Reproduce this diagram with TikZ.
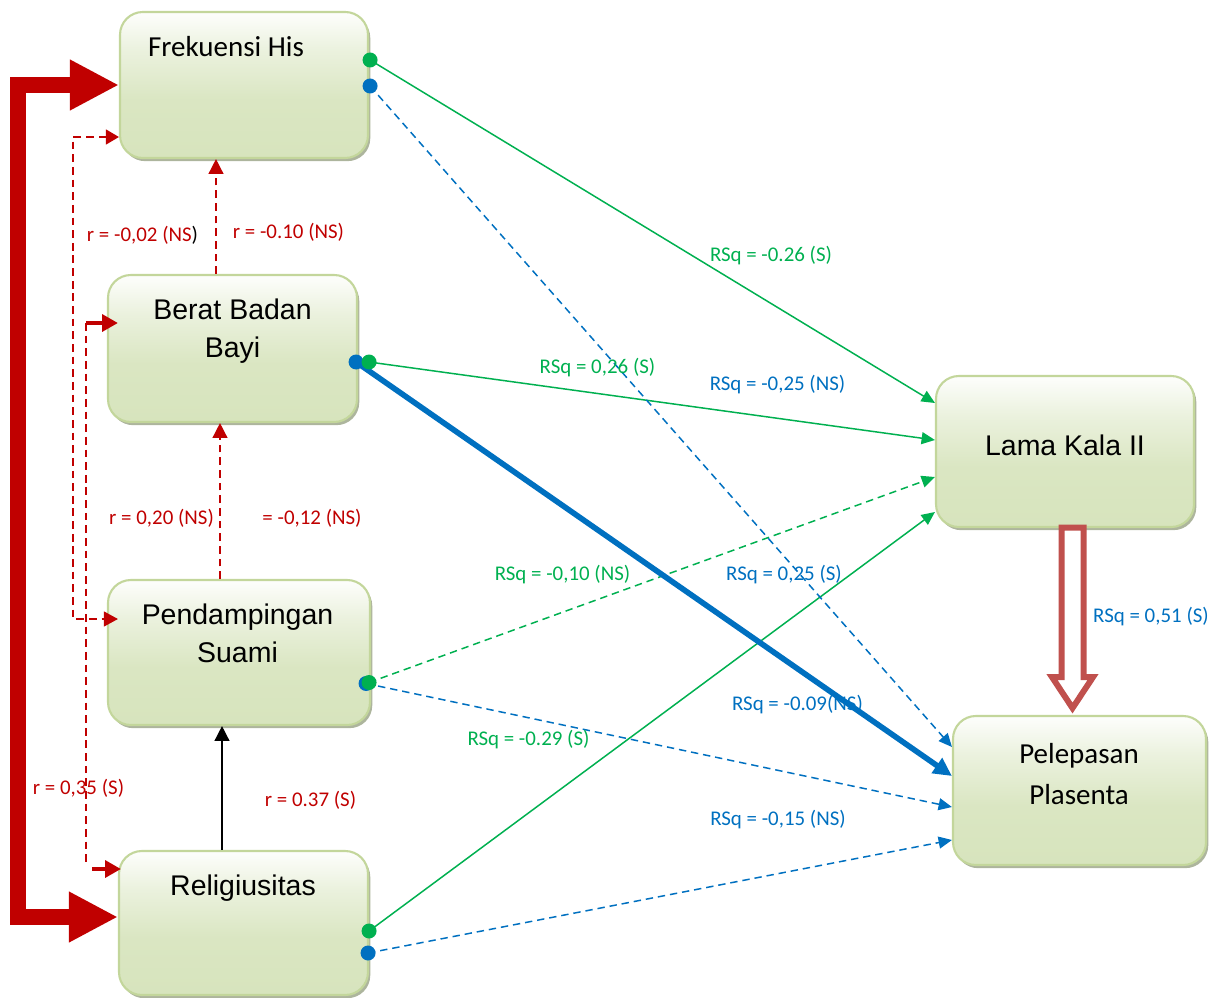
\documentclass[tikz,border=0pt]{standalone}
\usepackage{fontspec}
\setmainfont{Carlito}
\newfontfamily\arialf{Liberation Sans}
\usetikzlibrary{calc,arrows.meta,shadows}

\definecolor{rsgreen}{HTML}{00B050}
\definecolor{rsblue}{HTML}{0070C0}
\definecolor{rdark}{HTML}{C00000}
\definecolor{boxline}{HTML}{C3D69B}
\definecolor{boxfill}{HTML}{D7E4BD}
\definecolor{boxshadow}{HTML}{9FA88C}
\definecolor{hollowred}{HTML}{C0504D}

% one pixel of the drawing grid
\newlength\pxl
\setlength\pxl{0.02cm}

\pgfdeclareverticalshading{boxshade}{100bp}{%
  color(0bp)=(boxfill); color(25bp)=(boxfill); color(45bp)=(boxfill!92!white);
  color(62bp)=(boxfill!50!white); color(75bp)=(boxfill!4!white); color(100bp)=(white)}

\tikzset{
  varbox/.style={rectangle, rounded corners=13pt, draw=boxline, line width=1.2pt,
    shading=boxshade, inner sep=0pt,
    drop shadow={shadow xshift=1.3pt, shadow yshift=-1.8pt, fill=boxshadow, opacity=0.85}},
  atxt/.style={font=\arialf\fontsize{16.2}{21.5}\selectfont, align=center, inner sep=0pt},
  ctxt/.style={font=\fontsize{16.5}{23.8}\selectfont, align=center, inner sep=0pt},
  lbl/.style={font=\fontsize{11.9}{14}\selectfont, inner sep=0pt},
  rlbl/.style={lbl, text=rdark},
  glbl/.style={lbl, text=rsgreen},
  blbl/.style={lbl, text=rsblue},
  tri/.style={-{Triangle[length=7.6pt,width=6.8pt]}},
  gline/.style={draw=rsgreen, line width=0.85pt, tri},
  bline/.style={draw=rsblue, line width=0.85pt, dash pattern=on 4.2pt off 2.8pt, tri},
  gdash/.style={dash pattern=on 4.2pt off 2.8pt},
  bthick/.style={draw=rsblue, line width=3.2pt, -{Triangle[length=10.5pt,width=10pt]}},
  rdash/.style={draw=rdark, line width=0.85pt, dash pattern=on 4.4pt off 2.8pt},
  rstub/.style={draw=rdark, line width=2.4pt, -{Triangle[length=9pt,width=9.5pt]}},
  rthick/.style={draw=rdark, line width=8.6pt, line join=miter,
    {Triangle[length=28pt,width=27pt]}-{Triangle[length=28pt,width=27pt]}},
  gdot/.style={circle, fill=rsgreen, minimum size=15*\pxl, inner sep=0pt},
  bdot/.style={circle, fill=rsblue, minimum size=15*\pxl, inner sep=0pt},
}

\begin{document}
\begin{tikzpicture}[x=0.02cm, y=-0.02cm]
\useasboundingbox (0,0) rectangle (1226,997);

% variable boxes
\node[varbox, minimum width=248*\pxl, minimum height=146*\pxl] (fh)  at (244,85) {};
\node[varbox, minimum width=249*\pxl, minimum height=147*\pxl] (bbb) at (232.5,348.5) {};
\node[varbox, minimum width=262*\pxl, minimum height=145*\pxl] (ps)  at (239,652.5) {};
\node[varbox, minimum width=249*\pxl, minimum height=144*\pxl] (rel) at (243.5,923) {};
\node[varbox, minimum width=258*\pxl, minimum height=151*\pxl] (lk)  at (1065,451.5) {};
\node[varbox, minimum width=253*\pxl, minimum height=149*\pxl] (pp)  at (1079.5,790.5) {};

% box titles
\node[ctxt, anchor=base] (fhT)  at (226,57) {Frekuensi His};
\node[atxt] (bbbT) at (232.5,331) {Berat Badan\\Bayi};
\node[atxt] (psT)  at (237.5,633) {Pendampingan\\Suami};
\node[atxt, anchor=base] (relT) at (243,895) {Religiusitas};
\node[atxt, anchor=base] (lkT)  at (1065,455) {Lama Kala II};
\node[ctxt] (ppT)  at (1079,774) {Pelepasan\\Plasenta};

% correlations among the predictors
\draw[rthick] (fh.west) -- (18,85) -- (18,917) -- ($(rel.west)+(0,-6)$);

\coordinate (bendA1) at (73,137);
\coordinate (bendA2) at (73,619);
\draw[rdash, {Triangle[length=7.4pt,width=8.5pt]}-{Triangle[length=8pt,width=8.5pt]}]
  ($(fh.west)+(0,52)$) -- (bendA1) -- (bendA2) -- ($(ps.west)+(11,-33.5)$);

\coordinate (bendB1) at (86,323);
\coordinate (bendB2) at (86,863);
\coordinate (stubB2) at (92,869);
\draw[rdash] (bendB1) -- (bendB2);
\draw[rstub] (bendB1) -- ($(bbb.west)+(11,-25.5)$);
\draw[rstub] (stubB2) -- ($(rel.west)+(3,-54)$);

\coordinate (c1) at ($(bbb.north)+(-16.5,0)$);
\draw[rdash, -{Triangle[length=8.5pt,width=8.5pt]}] (c1) -- (c1 |- fh.south);
\coordinate (d1) at ($(ps.north)+(-19,0)$);
\draw[rdash, -{Triangle[length=8.5pt,width=8.5pt]}] (d1) -- (d1 |- bbb.south);
\coordinate (e1) at ($(rel.north)+(-21.5,0)$);
\draw[black, line width=0.85pt, -{Triangle[length=8.5pt,width=8.5pt]}] (e1) -- (e1 |- ps.south);

% path starting points
\coordinate (fhG)  at ($(fh.east)+(1,-25)$);
\coordinate (fhB)  at ($(fh.east)+(1,1)$);
\coordinate (bbbB) at ($(bbb.east)+(-2,13.5)$);
\coordinate (bbbG) at ($(bbb.east)+(11,13.5)$);
\coordinate (psB)  at ($(ps.east)+(-5,31)$);
\coordinate (psG)  at ($(ps.east)+(-2,30)$);
\coordinate (relG) at ($(rel.east)+(0,8)$);
\coordinate (relB) at ($(rel.east)+(-1,30)$);

% paths to Lama Kala II
\draw[gline] (fhG) -- ($(lk.west)+(0,-48.5)$);
\draw[gline] (bbbG) -- ($(lk.west)+(0,-11.5)$);
\draw[gline, gdash] (psG) -- ($(lk.west)+(0,25.5)$);
\draw[gline] (relG) -- ($(lk.west)+(0,60.5)$);

% paths to Pelepasan Plasenta
\draw[bline] (fhB) -- ($(pp.west)+(0,-43.5)$);
\draw[bthick] (bbbB) -- ($(pp.west)+(0,-14.5)$);
\draw[bline] (psB) -- ($(pp.west)+(0,16.5)$);
\draw[bline] (relB) -- ($(pp.west)+(0,49.5)$);

% hollow arrow Lama Kala II -> Pelepasan Plasenta
\draw[draw=hollowred, fill=white, line width=3.4pt, line join=miter]
  ($(lk.south)+(-3.5,-0.5)$) -- ($(lk.south)+(18.5,-0.5)$) -- ($(lk.south)+(18.5,149)$)
  -- ($(lk.south)+(28,149)$) -- ($(lk.south)+(7.5,180)$) -- ($(lk.south)+(-13,149)$)
  -- ($(lk.south)+(-3.5,149)$) -- cycle;

% end dots
\node[gdot] (fhGd) at (fhG) {};
\node[bdot] (fhBd) at (fhB) {};
\node[bdot] (bbbBd) at (bbbB) {};
\node[gdot] (bbbGd) at (bbbG) {};
\node[bdot] (psBd) at (psB) {};
\node[gdot] (psGd) at (psG) {};
\node[gdot] (relGd) at (relG) {};
\node[bdot] (relBd) at (relB) {};

% coefficients
\node[rlbl] (l1) at (142.5,235) {r = -0,02 (NS\textcolor{black}{)}};
\node[rlbl] (l2) at (288.5,232) {r = -0.10 (NS)};
\node[rlbl] (l3) at (161.5,518) {r = 0,20 (NS)};
\node[rlbl] (l4) at (312,518) {= -0,12 (NS)};
\node[rlbl] (l5) at (78.5,788) {r = 0,35 (S)};
\node[rlbl] (l6) at (310.5,800) {r = 0.37 (S)};
\node[glbl] (l7) at (771,256) {RSq = -0.26 (S)};
\node[glbl] (l8) at (597.5,368) {RSq = 0,26 (S)};
\node[blbl] (l9) at (777.5,385) {RSq = -0,25 (NS)};
\node[glbl] (l10) at (562.5,575) {RSq = -0,10 (NS)};
\node[blbl] (l11) at (784,575) {RSq = 0,25 (S)};
\node[glbl] (l12) at (528.5,740) {RSq = -0.29 (S)};
\node[blbl] (l13) at (797.5,705) {RSq = -0.09(NS)};
\node[blbl] (l14) at (778,820) {RSq = -0,15 (NS)};
\node[blbl] (l15) at (1151,617) {RSq = 0,51 (S)};
\end{tikzpicture}
\end{document}
